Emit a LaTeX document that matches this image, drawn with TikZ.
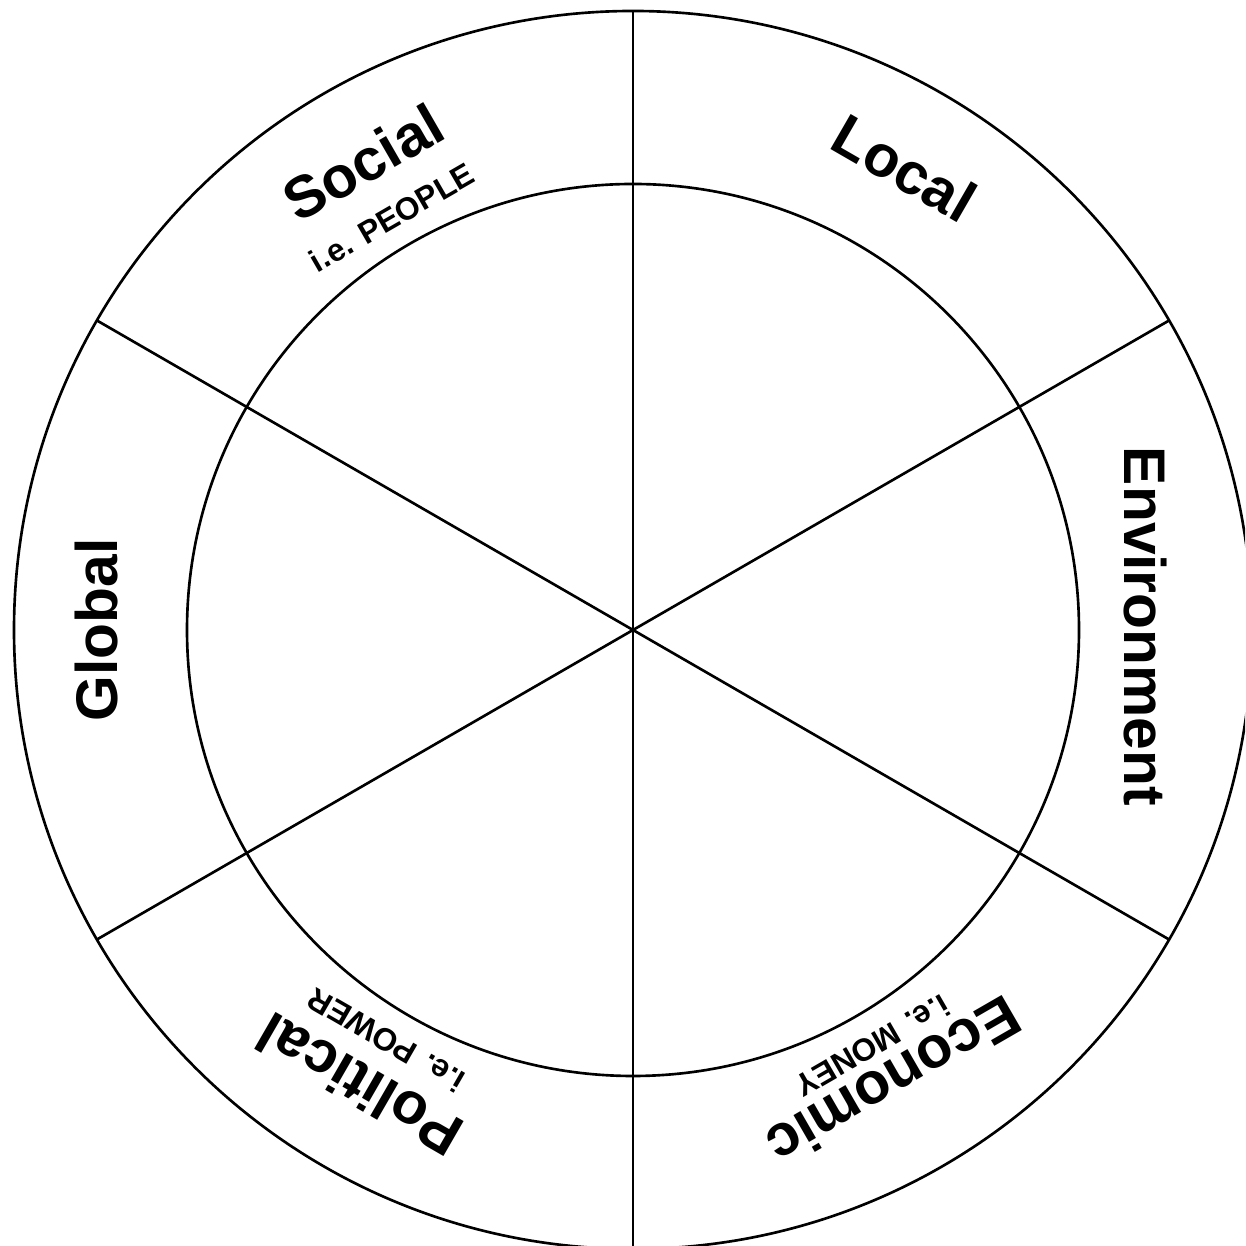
\documentclass[tikz,border=0pt]{standalone}
\usepackage{fontspec}
\setmainfont{Liberation Sans}
\tikzset{
  wheel/.style={line width=0.75pt, black},
  bigtxt/.style={font=\bfseries\fontsize{16.7}{20}\selectfont, inner sep=0pt},
  smalltxt/.style={font=\bfseries\fontsize{9}{11}\selectfont, inner sep=0pt},
}
\begin{document}
\begin{tikzpicture}[x=0.01cm,y=0.01cm]
\useasboundingbox (0,0) rectangle (1245,1246);
\clip (0,0) rectangle (1245,1246);
\begin{scope}[shift={(633,616)}]
  \coordinate (C) at (0,0);
  \draw[wheel] (C) circle (619);
  \draw[wheel] (C) circle (446);
  \coordinate (t90) at (90:619);
  \coordinate (t270) at (270:619);
  \coordinate (t30) at (30:619);
  \coordinate (t210) at (210:619);
  \coordinate (t150) at (150:619);
  \coordinate (t330) at (330:619);
  \draw[wheel] (t90) -- (t270);
  \draw[wheel] (t30) -- (t210);
  \draw[wheel] (t150) -- (t330);
  % labels
  \node[bigtxt, rotate=-30] (local) at (59.6:536) {Local};
  \node[bigtxt, rotate=30] (social) at (120:540) {Social};
  \node[smalltxt, rotate=30] (people) at (120.3:478) {i.e. PEOPLE};
  \node[bigtxt, rotate=90] (global) at (180:536) {Global};
  \node[bigtxt, rotate=-90] (env) at (0.4:512) {Environment};
  \node[bigtxt, rotate=-150] (econ) at (-60:522) {Economic};
  \node[smalltxt, rotate=-150] (money) at (-60.1:480) {i.e. MONEY};
  \node[bigtxt, rotate=150] (pol) at (-121:531) {Political};
  \node[smalltxt, rotate=150] (power) at (-121:479) {i.e. POWER};
\end{scope}
\end{tikzpicture}
\end{document}
